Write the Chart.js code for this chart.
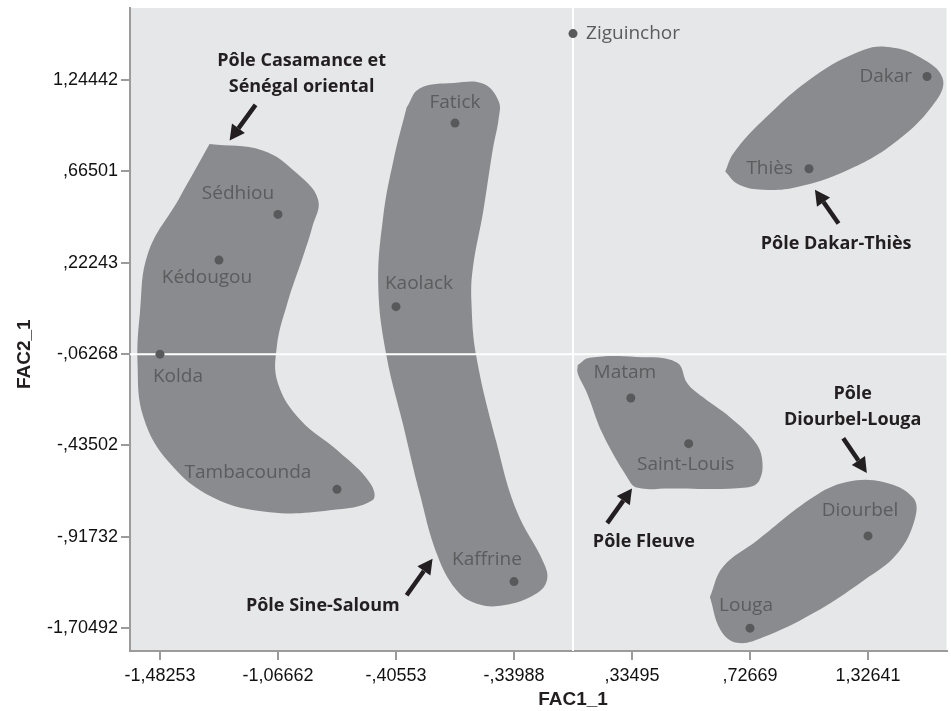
<!DOCTYPE html>
<html>
<head>
<meta charset="utf-8">
<script src="https://cdn.jsdelivr.net/npm/chart.js@4/dist/chart.umd.min.js"></script>
<style>
  body { margin: 0; background: #fff; }
  #wrap { width: 951px; height: 711px; }
</style>
</head>
<body>
<div id="wrap"><canvas id="chart" width="951" height="711"></canvas></div>
<script>
// Tick labels (evenly spaced positions, SPSS style)
const xTickLabels = ['-1,48253', '-1,06662', '-,40553', '-,33988', ',33495', ',72669', '1,32641'];
const yTickLabels = ['-1,70492', '-,91732', '-,43502', '-,06268', ',22243', ',66501', '1,24442'];

// Regions and their factor positions (in tick-index units)
const regions = ['Ziguinchor', 'Dakar', 'Thiès', 'Fatick', 'Sédhiou', 'Kédougou', 'Kolda',
  'Kaolack', 'Matam', 'Saint-Louis', 'Tambacounda', 'Kaffrine', 'Diourbel', 'Louga'];
const fac1 = [3.5, 6.5, 5.5, 2.5, 1.0, 0.5, 0.0, 2.0, 3.99, 4.48, 1.5, 3.0, 6.0, 5.0];
const fac2 = [6.51, 6.04, 5.03, 5.53, 4.53, 4.03, 3.0, 3.52, 2.52, 2.02, 1.52, 0.51, 1.01, 0.0];

// Outlines of the poles (x, y pairs in axis units)
const poleCasamance = [[0.42,5.30],[0.87,5.23],[1.16,4.98],[1.34,4.69],[1.29,4.39],[1.21,4.06],[1.08,3.56],
  [0.99,3.08],[1.00,2.68],[1.19,2.28],[1.50,1.95],[1.78,1.59],[1.80,1.40],[1.44,1.29],[0.93,1.27],
  [0.45,1.43],[0.08,1.81],[-0.14,2.31],[-0.19,2.90],[-0.17,3.45],[-0.10,4.11],[0.16,4.70],[0.42,5.30]];
const poleSineSaloum = [[2.09,5.70],[2.20,5.91],[2.49,5.97],[2.74,5.96],[2.87,5.77],[2.87,5.58],[2.82,5.24],
  [2.74,4.57],[2.65,3.93],[2.64,3.55],[2.68,2.98],[2.85,2.04],[3.02,1.29],[3.25,0.72],[3.28,0.53],
  [3.19,0.38],[2.91,0.25],[2.68,0.27],[2.51,0.42],[2.35,0.80],[2.20,1.48],[2.06,2.23],[1.92,2.98],
  [1.85,3.74],[1.89,4.49],[1.98,5.13],[2.09,5.70]];
const poleFleuve = [[3.54,2.88],[3.64,2.96],[4.04,2.97],[4.38,2.91],[4.47,2.68],[4.60,2.53],[4.83,2.31],
  [5.03,2.06],[5.10,1.87],[5.08,1.62],[4.97,1.54],[4.32,1.53],[4.04,1.54],[3.96,1.65],[3.75,2.13],
  [3.62,2.57],[3.54,2.79],[3.54,2.88]];
const poleDakarThies = [[4.79,5.00],[4.86,5.20],[5.11,5.56],[5.53,6.03],[5.96,6.33],[6.19,6.36],[6.44,6.25],
  [6.63,6.03],[6.58,5.78],[6.25,5.34],[5.82,5.01],[5.40,4.83],[5.11,4.80],[4.90,4.86],[4.79,5.00]];
const poleDiourbelLouga = [[4.66,0.34],[4.77,0.67],[5.06,0.96],[5.53,1.43],[5.82,1.60],[6.13,1.60],[6.38,1.43],
  [6.40,1.21],[6.25,0.82],[5.96,0.52],[5.53,0.16],[5.11,-0.10],[4.89,-0.16],[4.75,-0.02],[4.66,0.34]];

// Pole captions and arrows (axis units)
const poleNames = [['Pôle Casamance et', 'Sénégal oriental'], ['Pôle Sine-Saloum'], ['Pôle Fleuve'],
  ['Pôle Dakar-Thiès'], ['Pôle', 'Diourbel-Louga']];
const poleNameAt = [[1.20, 6.21], [1.38, 0.24], [4.10, 0.94], [5.73, 4.21], [5.87, 2.56]];
const arrowFrom = [[0.81, 5.73], [2.09, 0.36], [3.79, 1.15], [5.75, 4.43], [5.79, 2.08]];
const arrowTo = [[0.59, 5.34], [2.31, 0.76], [4.00, 1.53], [5.55, 4.80], [5.99, 1.70]];

// label placement around each dot: [align, dx, dy]
const labelPlace = [['left', 13, 0], ['right', -15, 0], ['right', -16, 0], ['center', 0, -20],
  ['center', -40, -21], ['center', -12, 18], ['center', 18, 22], ['center', 23, -23],
  ['center', -6, -25], ['center', -3, 21], ['center', -89, -17], ['center', -27, -22],
  ['center', -8, -25], ['center', -4, -23]];

const BLOB = '#8a8b8e';
const DOT = '#58595b';

function toXY(list) {
  return list.map(p => ({ x: p[0], y: p[1] }));
}

function blob(list) {
  return {
    type: 'line',
    data: toXY(list),
    borderWidth: 0,
    borderColor: BLOB,
    backgroundColor: BLOB,
    fill: 'shape',
    tension: 0.4,
    pointRadius: 0,
    order: 3
  };
}

const backdrop = {
  id: 'backdrop',
  beforeDraw(chart) {
    const a = chart.chartArea;
    const ctx = chart.ctx;
    ctx.save();
    ctx.fillStyle = '#e6e7e8';
    ctx.fillRect(a.left, a.top, a.right - a.left, a.bottom - a.top);
    ctx.restore();
  }
};

const notes = {
  id: 'notes',
  afterDatasetsDraw(chart) {
    const ctx = chart.ctx;
    const xs = chart.scales.x;
    const ys = chart.scales.y;
    ctx.save();

    // region labels
    ctx.font = '19px "Open Sans"';
    ctx.fillStyle = '#5b5c5e';
    ctx.textBaseline = 'middle';
    regions.forEach((name, i) => {
      const pl = labelPlace[i];
      ctx.textAlign = pl[0];
      ctx.fillText(name, xs.getPixelForValue(fac1[i]) + pl[1], ys.getPixelForValue(fac2[i]) + pl[2]);
    });

    // pole captions
    ctx.font = 'bold 18px "Open Sans"';
    ctx.fillStyle = '#231f20';
    ctx.textAlign = 'center';
    poleNames.forEach((lines, i) => {
      const cx = xs.getPixelForValue(poleNameAt[i][0]);
      const cy = ys.getPixelForValue(poleNameAt[i][1]);
      lines.forEach((t, k) => ctx.fillText(t, cx, cy + k * 26));
    });

    // arrows
    ctx.strokeStyle = '#231f20';
    ctx.fillStyle = '#231f20';
    ctx.lineWidth = 4.5;
    arrowFrom.forEach((f, i) => {
      const x0 = xs.getPixelForValue(f[0]), y0 = ys.getPixelForValue(f[1]);
      const x1 = xs.getPixelForValue(arrowTo[i][0]), y1 = ys.getPixelForValue(arrowTo[i][1]);
      const ang = Math.atan2(y1 - y0, x1 - x0);
      const head = 15;
      const bx = x1 - head * Math.cos(ang), by = y1 - head * Math.sin(ang);
      ctx.beginPath();
      ctx.moveTo(x0, y0);
      ctx.lineTo(bx, by);
      ctx.stroke();
      ctx.beginPath();
      ctx.moveTo(x1, y1);
      ctx.lineTo(bx + 8 * Math.sin(ang), by - 8 * Math.cos(ang));
      ctx.lineTo(bx - 8 * Math.sin(ang), by + 8 * Math.cos(ang));
      ctx.closePath();
      ctx.fill();
    });

    // axis titles, centred on the reference lines
    ctx.font = 'bold 19px "Liberation Sans"';
    ctx.textAlign = 'center';
    ctx.fillText('FAC1_1', xs.getPixelForValue(3.5), 700);
    ctx.translate(25, ys.getPixelForValue(3));
    ctx.rotate(-Math.PI / 2);
    ctx.fillText('FAC2_1', 0, 0);
    ctx.restore();
  }
};

const xMin = -0.254, xMax = 6.665, yMin = -0.25, yMax = 6.79;

new Chart(document.getElementById('chart'), {
  type: 'scatter',
  data: {
    datasets: [
      {
        data: fac1.map((x, i) => ({ x: x, y: fac2[i] })),
        backgroundColor: DOT,
        borderWidth: 0,
        pointRadius: 4.5,
        order: 0
      },
      {
        type: 'line',
        data: [{ x: 3.5, y: yMin }, { x: 3.5, y: yMax }],
        borderColor: '#ffffff',
        borderWidth: 2,
        pointRadius: 0,
        order: 1
      },
      {
        type: 'line',
        data: [{ x: xMin, y: 3 }, { x: xMax, y: 3 }],
        borderColor: '#ffffff',
        borderWidth: 2,
        pointRadius: 0,
        order: 1
      },
      blob(poleCasamance),
      blob(poleSineSaloum),
      blob(poleFleuve),
      blob(poleDakarThies),
      blob(poleDiourbelLouga)
    ]
  },
  options: {
    responsive: false,
    animation: false,
    layout: { padding: 0 },
    plugins: { legend: { display: false }, tooltip: { enabled: false } },
    scales: {
      x: {
        type: 'linear',
        min: xMin,
        max: xMax,
        afterBuildTicks: s => { s.ticks = xTickLabels.map((t, i) => ({ value: i })); },
        afterFit: s => { s.height = 60; s.paddingLeft = 0; s.paddingRight = 0; },
        ticks: {
          callback: v => xTickLabels[v],
          color: '#111',
          font: { family: 'Liberation Sans', size: 18 },
          padding: 5,
          maxRotation: 0
        },
        grid: { drawOnChartArea: false, tickLength: 9, color: '#9b9b9b', lineWidth: 2 },
        border: { color: '#9b9b9b', width: 2 }
      },
      y: {
        type: 'linear',
        min: yMin,
        max: yMax,
        afterBuildTicks: s => { s.ticks = yTickLabels.map((t, i) => ({ value: i })); },
        afterFit: s => { s.width = 130; s.paddingTop = 8; s.paddingBottom = 0; },
        ticks: {
          callback: v => yTickLabels[v],
          color: '#111',
          font: { family: 'Liberation Sans', size: 18 },
          padding: 3
        },
        grid: { drawOnChartArea: false, tickLength: 9, color: '#9b9b9b', lineWidth: 2 },
        border: { color: '#9b9b9b', width: 2 }
      }
    }
  },
  plugins: [backdrop, notes]
});
</script>
</body>
</html>
